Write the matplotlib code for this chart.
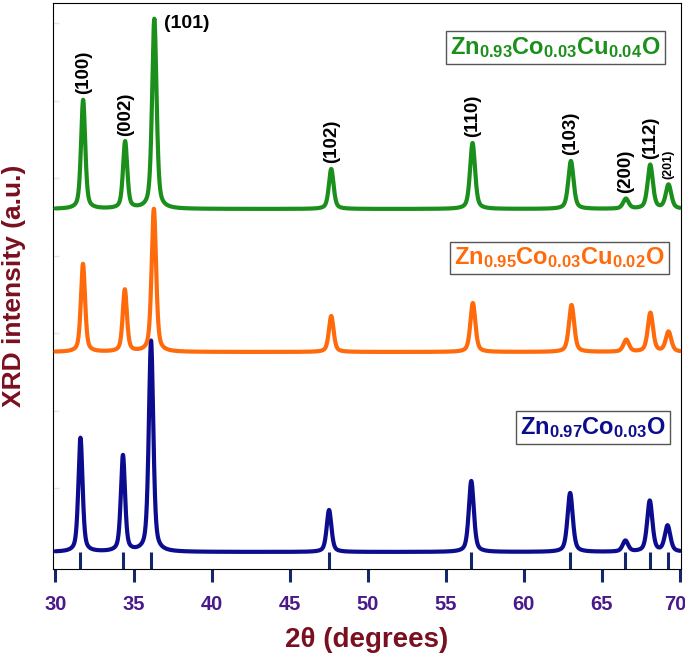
import numpy as np
import matplotlib
matplotlib.use("Agg")
import matplotlib.pyplot as plt
import matplotlib.transforms as mtransforms

# ---------------- data ----------------
hkl_labels = ["(100)", "(002)", "(101)", "(102)", "(110)", "(103)", "(200)", "(112)", "(201)"]

# reference (stick) pattern positions, 2theta
ref_positions = [31.60, 34.32, 36.12, 47.52, 56.63, 62.96, 66.50, 68.06, 69.20]

# Zn0.97Co0.03O (blue)
blue_pos = [31.60, 34.32, 36.12, 47.52, 56.63, 62.96, 66.50, 68.06, 69.20]
blue_hgt = [114, 96, 211, 42, 71, 59, 11, 51, 26]
blue_base = 17

# Zn0.95Co0.03Cu0.02O (orange)
orange_pos = [31.76, 34.44, 36.30, 47.66, 56.73, 63.05, 66.55, 68.10, 69.26]
orange_hgt = [88, 62, 143, 36, 49, 47, 12, 39, 20]
orange_base = 217

# Zn0.93Co0.03Cu0.04O (green)
green_pos = [31.77, 34.46, 36.33, 47.66, 56.71, 63.01, 66.53, 68.09, 69.26]
green_hgt = [109, 67, 190, 40, 66, 48, 10, 44, 24]
green_base = 360

# peak widths (FWHM, degrees)
peak_fwhm = [0.32, 0.32, 0.34, 0.36, 0.38, 0.40, 0.42, 0.40, 0.42]

x_ticks = [30, 35, 40, 45, 50, 55, 60, 65, 70]

# ---------------- helpers ----------------
def pattern(x, pos, hgt, base, fwhm, eta=0.5):
    y = np.full_like(x, float(base))
    for p, h, w in zip(pos, hgt, fwhm):
        g = np.exp(-4 * np.log(2) * ((x - p) / w) ** 2)
        l = 1.0 / (1.0 + 4 * ((x - p) / w) ** 2)
        y += h * (eta * l + (1 - eta) * g)
    return y

x = np.linspace(30, 70, 4001)

navy = "#13286b"
c_blue = "#0c0c8e"
c_orange = "#ff6a0a"
c_green = "#1b8f1b"
c_tick = "#4a1a8a"
c_axis_label = "#7a0f1f"

plt.rcParams["mathtext.fontset"] = "custom"
plt.rcParams["mathtext.rm"] = "Liberation Sans"
plt.rcParams["mathtext.bf"] = "Liberation Sans:bold"
plt.rcParams["font.family"] = ["Liberation Sans", "DejaVu Sans"]

fig = plt.figure(figsize=(6.85, 6.57), dpi=100)
ax = fig.add_axes([53 / 685, 1 - 569 / 657, 628 / 685, 566 / 657])

series = [
    (blue_pos, blue_hgt, blue_base, c_blue),
    (orange_pos, orange_hgt, orange_base, c_orange),
    (green_pos, green_hgt, green_base, c_green),
]
for pos, hgt, base, col in series:
    ax.plot(x, pattern(x, pos, hgt, base, peak_fwhm), color=col, lw=3.0,
            solid_joinstyle="round", solid_capstyle="round", zorder=3)

# reference sticks
ax.vlines(ref_positions, 0, 17, color=navy, lw=2.2, zorder=2)

# peak labels on the top pattern
for lab, p, h in zip(hkl_labels, green_pos, green_hgt):
    top = green_base + h
    if lab == "(101)":
        ax.annotate(lab, (p, top), xytext=(7, -3), textcoords="offset points",
                    ha="left", va="center", fontsize=14, fontweight="bold", color="black")
    else:
        fs = 9 if lab == "(201)" else 13.5
        ax.annotate(lab, (p, top), xytext=(0, 4), textcoords="offset points",
                    ha="center", va="bottom", rotation=90, fontsize=fs,
                    fontweight="bold", color="black")

# composition boxes
boxes = [
    (r"$\mathbf{Zn_{0.93}Co_{0.03}Cu_{0.04}O}$", c_green, 0.800, 0.922),
    (r"$\mathbf{Zn_{0.95}Co_{0.03}Cu_{0.02}O}$", c_orange, 0.8065, 0.5495),
    (r"$\mathbf{Zn_{0.97}Co_{0.03}O}$", c_blue, 0.860, 0.250),
]
for txt, col, xf, yf in boxes:
    ax.text(xf, yf, txt, transform=ax.transAxes, ha="center", va="center",
            fontsize=17, color=col,
            bbox=dict(boxstyle="square,pad=0.17", fc="white", ec="#555555", lw=1.0))

ax.set_xlim(29.84, 70.06)
ax.set_ylim(0, 566)
ax.set_xticks(x_ticks)
ax.set_xticklabels([str(t) for t in x_ticks])
ax.set_yticks(np.arange(81, 566, 77.5))
ax.set_yticklabels([])
ax.tick_params(axis="x", direction="out", length=9.5, width=2.2, color=navy,
               pad=9.5, labelsize=14.5, labelcolor=c_tick)
ax.tick_params(axis="y", direction="in", length=4, width=1, color="#dfe4ee")
ticklabels = ax.get_xticklabels()
for lab in ticklabels:
    lab.set_fontweight("bold")
# keep the last label inside the figure edge
shift = mtransforms.ScaledTranslation(-5 / 100, 0, fig.dpi_scale_trans)
ticklabels[-1].set_transform(ticklabels[-1].get_transform() + shift)

ax.set_xlabel("2θ (degrees)", fontsize=20, fontweight="bold", color=c_axis_label, labelpad=9)
ax.set_ylabel("XRD intensity (a.u.)", fontsize=19, fontweight="bold", color=c_axis_label, labelpad=16)

fig.savefig("out.png", dpi=100)
